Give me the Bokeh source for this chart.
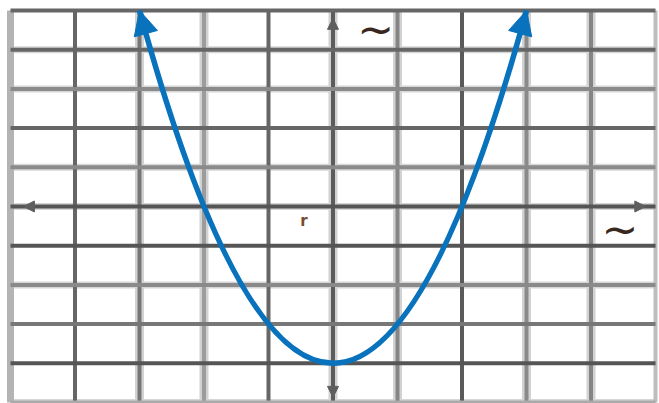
from bokeh.plotting import figure
from bokeh.models import Arrow, NormalHead, ColumnDataSource, Range1d
from bokeh.core.properties import value
from bokeh.embed import file_html
from bokeh.resources import INLINE

# ---- data ----
grid_x = [-5, -4, -3, -2, -1, 0, 1, 2, 3, 4, 5]
grid_y = [5, 4, 3, 2, 1, 0, -1, -2, -3, -4, -5]

# parabola: ends (arrow tips) and vertex
curve_start = (-3, 5)
curve_end = (3, 5)
vertex = (0, -4)

# axis arrow tips
axis_left_tip = -4.8
axis_right_tip = 4.85
axis_top_tip = 4.8
axis_bottom_tip = -4.87

label_texts = ["~", "~", "r"]
label_x = [0.66, 4.45, -0.45]
label_y = [4.52, -0.58, -0.38]

# ---- styles ----
v_core = ['#b4b4b4', '#666666', '#767676', '#9c9c9c', '#666666', '#5c5c5c',
          '#858585', '#5a5a5a', '#8a8a8a', '#858585', '#bdbdbd']
v_halo = [False, False, True, True, False, True, True, False, True, True, False]
v_width = [7, 4, 4, 4, 4, 4, 4, 4, 4, 4, 4]
h_core = ['#666666', '#666666', '#8a8a8a', '#666666', '#8a8a8a', '#555555',
          '#555555', '#8a8a8a', '#777777', '#555555', '#aaaaaa']
h_halo = [False, True, True, False, True, True, False, True, False, False, True]

W, H = 659, 403
p = figure(width=W, height=H, output_backend="svg", toolbar_location=None,
           x_range=Range1d(-5.155, 5.062), y_range=Range1d(-5.026, 5.255),
           min_border=0, background_fill_color="white", border_fill_color="white")
p.axis.visible = False
p.grid.visible = False
p.outline_line_color = None

# grid lines (light halos first, then cores)
hx = [x for x, h in zip(grid_x, v_halo) if h]
p.segment(x0=hx, x1=hx, y0=[grid_y[-1]] * len(hx), y1=[grid_y[0]] * len(hx),
          line_color="#d2d2d2", line_width=9)
hy = [y for y, h in zip(grid_y, h_halo) if h]
p.segment(x0=[grid_x[0]] * len(hy), x1=[grid_x[-1]] * len(hy), y0=hy, y1=hy,
          line_color="#d6d6d6", line_width=7)
p.segment(x0=grid_x, x1=grid_x, y0=[grid_y[-1]] * len(grid_x), y1=[grid_y[0]] * len(grid_x),
          line_color=v_core, line_width=v_width)
p.segment(x0=[grid_x[0]] * len(grid_y), x1=[grid_x[-1]] * len(grid_y), y0=grid_y, y1=grid_y,
          line_color=h_core, line_width=4)

# axis arrowheads
ax_col = "#5e5e5e"
for (xs, ys, xe, ye) in [(0, 0, axis_left_tip, 0), (0, 0, axis_right_tip, 0),
                         (0, 0, 0, axis_top_tip), (0, 0, 0, axis_bottom_tip)]:
    p.add_layout(Arrow(end=NormalHead(size=11, fill_color=ax_col, line_color=ax_col, line_width=1),
                       x_start=xs, y_start=ys, x_end=xe, y_end=ye, line_alpha=0))

# parabola as a quadratic Bezier through the vertex
cx = vertex[0]
cy = 2 * vertex[1] - (curve_start[1] + curve_end[1]) / 2
blue = "#0872BD"
p.quadratic(x0=[curve_start[0]], y0=[curve_start[1]], x1=[curve_end[0]], y1=[curve_end[1]],
            cx=[cx], cy=[cy], line_color=blue, line_width=5.5)
for (ex, ey) in [curve_start, curve_end]:
    p.add_layout(Arrow(end=NormalHead(size=24, fill_color=blue, line_color=blue, line_width=1),
                       x_start=cx, y_start=cy, x_end=ex, y_end=ey, line_alpha=0))

# labels
src = ColumnDataSource(dict(x=label_x, y=label_y, t=label_texts,
                            s=["44px", "44px", "15px"],
                            st=["normal", "normal", "bold"],
                            c=["#3a2820", "#3a2820", "#7a4a30"]))
p.text(x="x", y="y", text="t", source=src, text_font=value("DejaVu Sans"),
       text_font_size="s", text_color="c", text_align="center",
       text_baseline="middle", text_font_style="st")

open("out.html", "w").write(file_html(p, INLINE))
